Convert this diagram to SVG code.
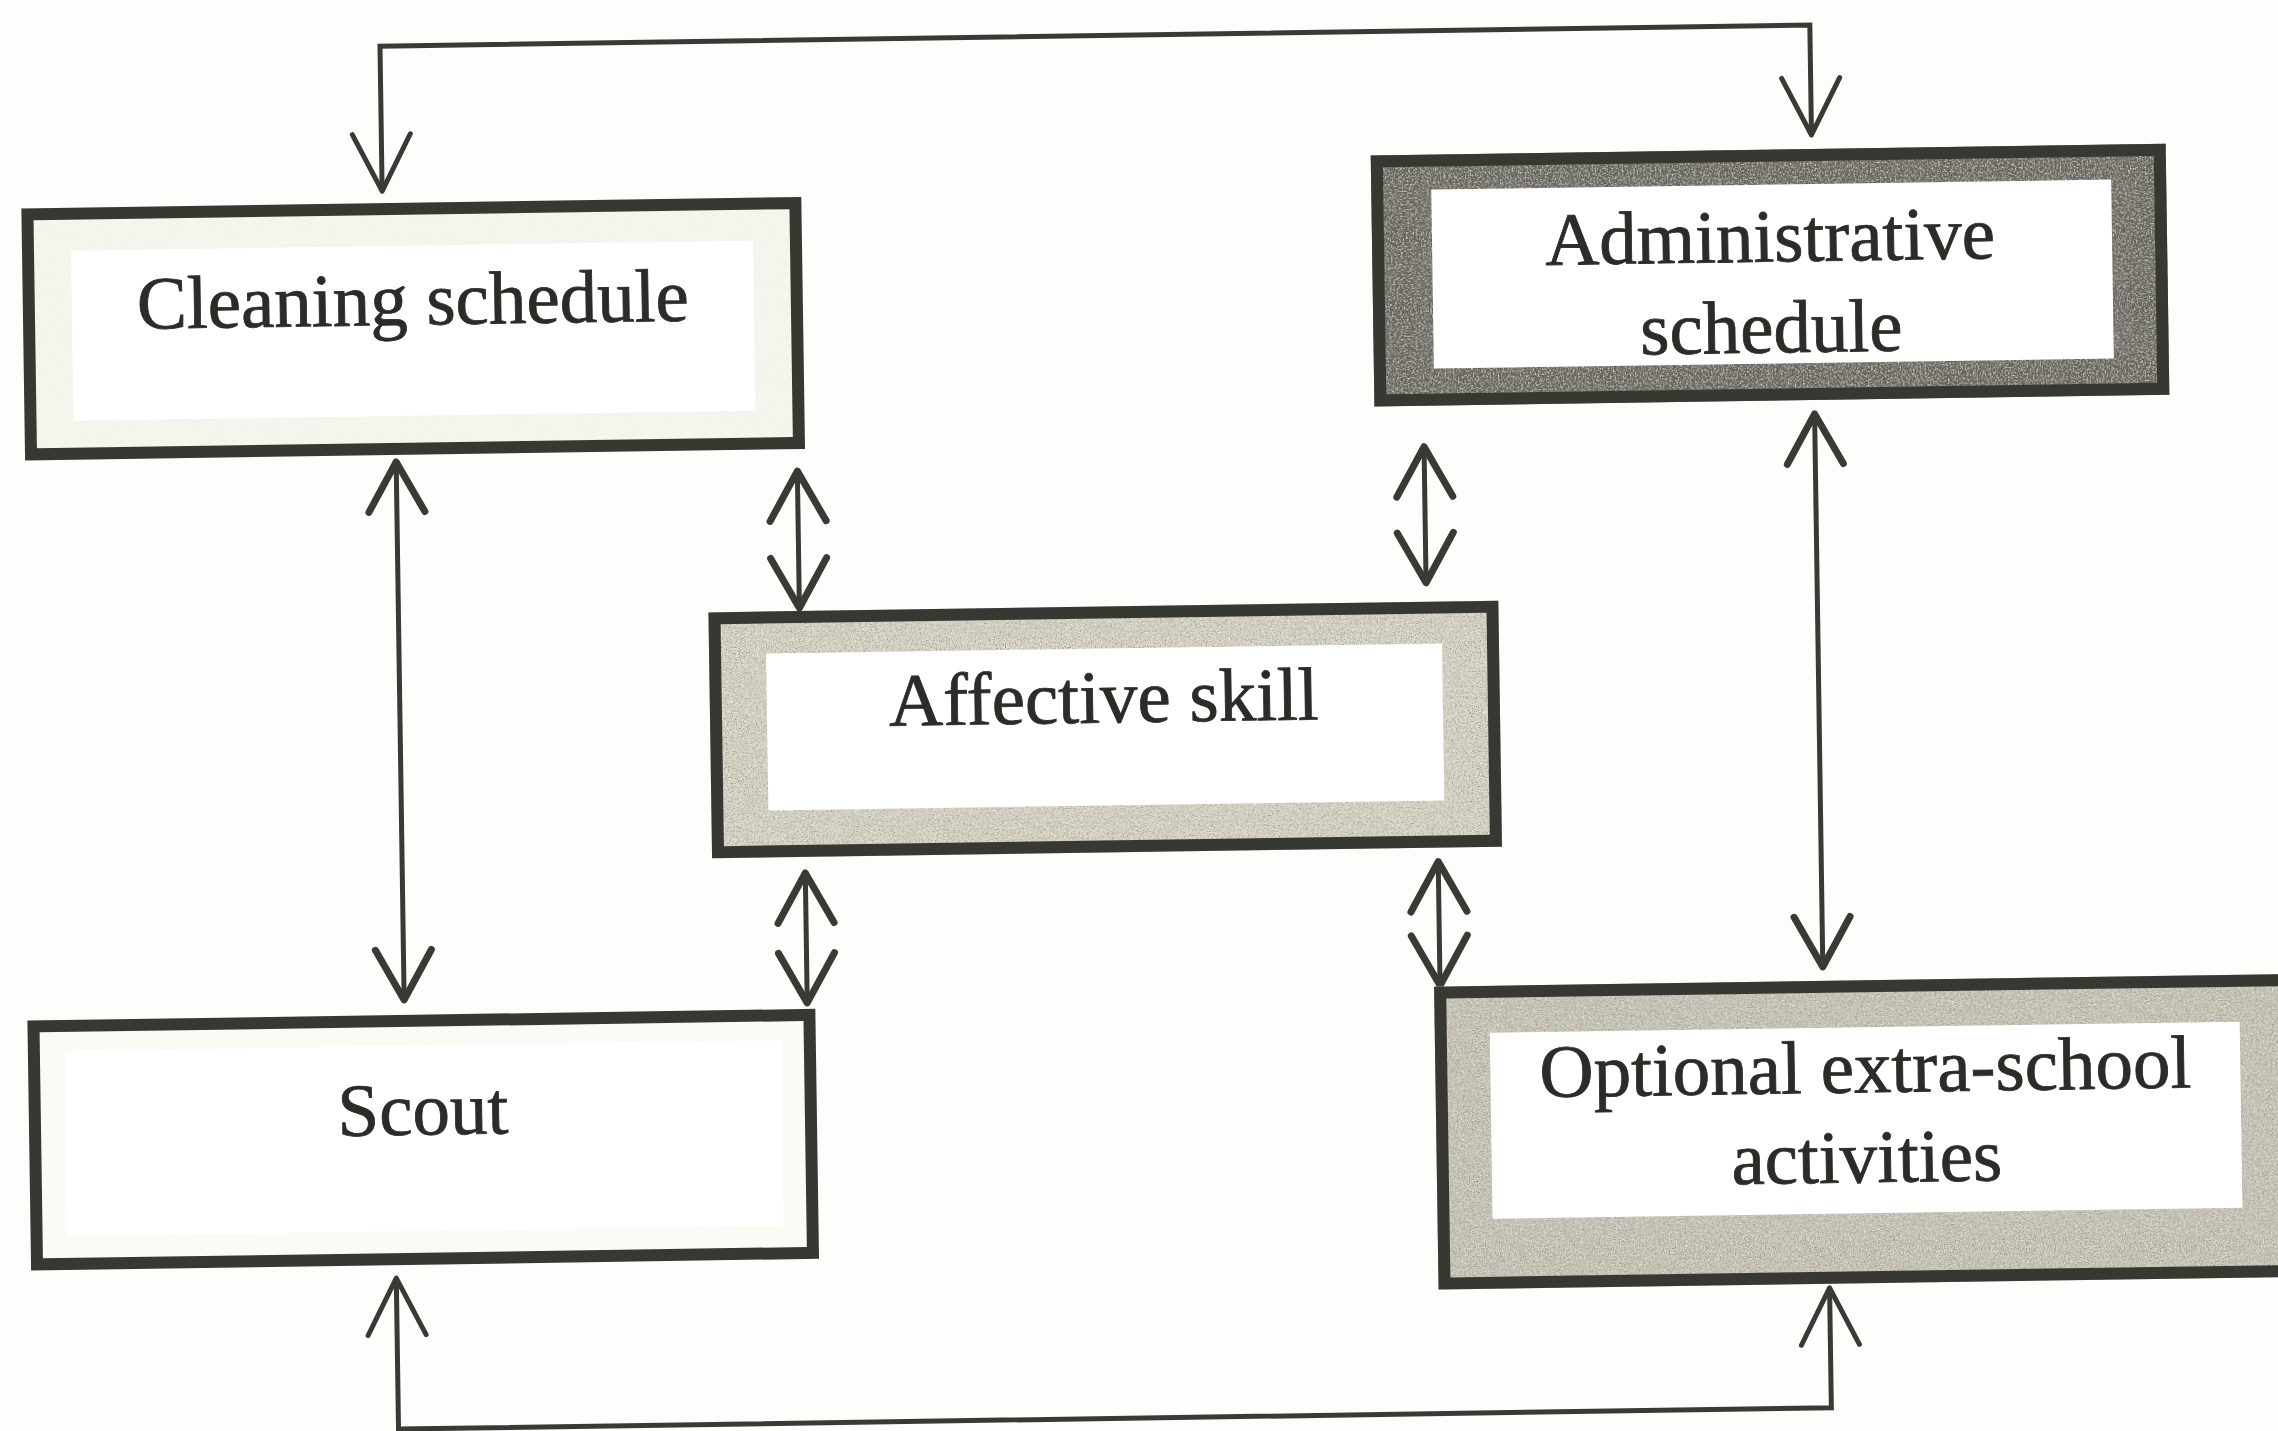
<svg xmlns="http://www.w3.org/2000/svg" width="2278" height="1431" viewBox="0 0 2278 1431">
  <style>
    .frame { fill: none; stroke: #383832; stroke-width: 12; }
    .inner { fill: #ffffff; }
    .label { font-family: "Liberation Serif", "Times New Roman", serif; font-size: 75px; fill: #2b2b27; stroke: #2b2b27; stroke-width: 0.8; text-anchor: middle; }
    .link { fill: none; stroke: #3a3a35; stroke-width: 5; }
    .thin { marker-start: url(#headThin); marker-end: url(#headThin); }
    .bold { marker-start: url(#headBold); marker-end: url(#headBold); }
  </style>
  <defs>
    <!-- speckled print texture for the shaded box bands -->
    <filter id="grain" x="0" y="0" width="100%" height="100%">
      <feTurbulence type="fractalNoise" baseFrequency="0.8" numOctaves="3" seed="7" result="noise"/>
      <feColorMatrix in="noise" type="matrix" values="0 0 0 0 0.22  0 0 0 0 0.21  0 0 0 0 0.18  0 0 0 2.4 -1.1" result="dark"/>
      <feComposite in="dark" in2="SourceAlpha" operator="in" result="darkIn"/>
      <feTurbulence type="fractalNoise" baseFrequency="0.6" numOctaves="2" seed="21" result="noise2"/>
      <feColorMatrix in="noise2" type="matrix" values="0 0 0 0 0.96  0 0 0 0 0.95  0 0 0 0 0.9  0 0 0 2.0 -0.95" result="light"/>
      <feComposite in="light" in2="SourceAlpha" operator="in" result="lightIn"/>
      <feMerge><feMergeNode in="SourceGraphic"/><feMergeNode in="lightIn"/><feMergeNode in="darkIn"/></feMerge>
    </filter>
    <!-- faint texture for the lightly tinted bands -->
    <filter id="grainSoft" x="0" y="0" width="100%" height="100%">
      <feTurbulence type="fractalNoise" baseFrequency="0.8" numOctaves="3" seed="11" result="noise"/>
      <feColorMatrix in="noise" type="matrix" values="0 0 0 0 0.6  0 0 0 0 0.6  0 0 0 0 0.55  0 0 0 1.0 -0.55" result="speck"/>
      <feComposite in="speck" in2="SourceAlpha" operator="in" result="speckIn"/>
      <feMerge><feMergeNode in="SourceGraphic"/><feMergeNode in="speckIn"/></feMerge>
    </filter>
    <!-- open V arrowheads -->
    <marker id="headBold" viewBox="-60 -40 70 80" refX="0" refY="0" markerWidth="70" markerHeight="80" markerUnits="userSpaceOnUse" orient="auto-start-reverse">
      <path d="M-50,-28 L0,0 L-50,28" fill="none" stroke="#3a3a35" stroke-width="7" stroke-linecap="round" stroke-linejoin="round"/>
    </marker>
    <marker id="headThin" viewBox="-65 -40 75 80" refX="0" refY="0" markerWidth="75" markerHeight="80" markerUnits="userSpaceOnUse" orient="auto-start-reverse">
      <path d="M-57,-29 L0,0 L-57,29" fill="none" stroke="#3a3a35" stroke-width="5" stroke-linecap="round" stroke-linejoin="round"/>
    </marker>
  </defs>

  <rect x="0" y="0" width="2278" height="1431" fill="#fdfdfb"/>

  <g transform="rotate(-0.85 1139 715)">
    <!-- connectors -->
    <g id="connectors">
      <path class="link thin" d="M390,180 V35 H1820 V145" stroke-width="6"/>
      <path class="link thin" d="M388,1267 V1418 H1821 V1298"/>
      <path class="link bold" d="M400,451 V989"/>
      <path class="link bold" d="M801,466 V603"/>
      <path class="link bold" d="M1428,451 V587"/>
      <path class="link bold" d="M803,868 V998"/>
      <path class="link bold" d="M1436,866 V990"/>
      <path class="link bold" d="M1819,424 V977"/>
    </g>

    <g id="cleaning-schedule">
      <rect x="29" y="192" width="780" height="252" fill="#f7f6ee" filter="url(#grainSoft)"/>
      <rect class="inner" x="78" y="235" width="682" height="170"/>
      <rect class="frame" x="35" y="198" width="768" height="240"/>
      <text class="label" x="419" y="314">Cleaning schedule</text>
    </g>

    <g id="administrative-schedule">
      <rect x="1379" y="159" width="795" height="251" fill="#615f57" filter="url(#grain)"/>
      <rect class="inner" x="1439" y="194" width="680" height="179"/>
      <rect class="frame" x="1385" y="165" width="783" height="239"/>
      <text class="label" x="1777" y="271">Administrative</text>
      <text class="label" x="1777" y="362">schedule</text>
    </g>

    <g id="affective-skill">
      <rect x="710" y="606" width="790" height="246" fill="#d9d6c6" filter="url(#grain)"/>
      <rect class="inner" x="767" y="648" width="676" height="157"/>
      <rect class="frame" x="716" y="612" width="778" height="234"/>
      <text class="label" x="1104" y="722">Affective skill</text>
    </g>

    <g id="scout">
      <rect x="23" y="1004" width="788" height="250" fill="#fbfbf6"/>
      <rect class="inner" x="60" y="1035" width="716" height="185"/>
      <rect class="frame" x="29" y="1010" width="776" height="238"/>
      <text class="label" x="417" y="1124">Scout</text>
    </g>

    <g id="optional-extra-school-activities">
      <rect x="1430" y="991" width="880" height="303" fill="#c9c6b7" filter="url(#grain)"/>
      <rect class="inner" x="1485" y="1038" width="750" height="186"/>
      <rect class="frame" x="1436" y="997" width="868" height="291"/>
      <text class="label" x="1860" y="1103">Optional extra-school</text>
      <text class="label" x="1860" y="1193">activities</text>
    </g>
  </g>
</svg>
